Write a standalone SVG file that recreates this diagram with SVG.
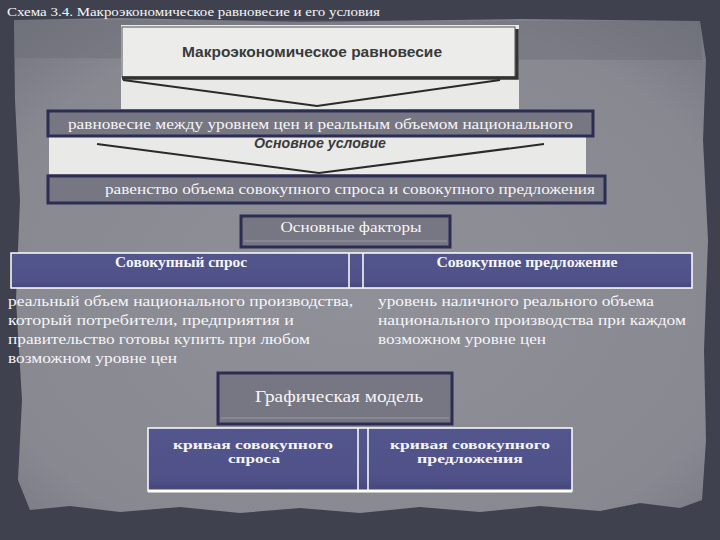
<svg xmlns="http://www.w3.org/2000/svg" width="720" height="540" viewBox="0 0 720 540">
<defs>
<radialGradient id="pg" cx="0.5" cy="0.55" r="0.75">
<stop offset="0" stop-color="#8f9098"/>
<stop offset="0.75" stop-color="#878890"/>
<stop offset="1" stop-color="#72747e"/>
</radialGradient>
<linearGradient id="hdr" x1="0" y1="0" x2="0" y2="1">
<stop offset="0" stop-color="#53558d"/>
<stop offset="0.8" stop-color="#4f5188"/>
<stop offset="1" stop-color="#45477a"/>
</linearGradient>
</defs>
<style>
.t{font-family:"Liberation Serif","DejaVu Serif",serif;fill:#f6f6f8}
.box{fill:#767782;stroke:#2c2d52;stroke-width:3}
.cell{fill:url(#hdr);stroke:#ffffff;stroke-width:1.5}
.sep{stroke:#ffffff;stroke-width:1.5}
.con{fill:none;stroke:#2a2a2a;stroke-width:2}
.pic{fill:#e9e9e7}
</style>
<rect x="0" y="0" width="720" height="540" fill="#3f424e"/>
<path d="M14,20 L120,18 L300,22 L520,19 L700,21 L706,60 L703,140 L708,240 L704,350 L706,440 L702,500 L680,508 L640,503 L600,511 L540,506 L480,512 L420,507 L360,513 L300,508 L240,513 L180,507 L120,512 L70,506 L30,510 L18,480 L22,400 L16,300 L20,200 L15,100 Z" fill="url(#pg)"/>
<path d="M14,20 L700,21 L702,60 L14,58 Z" fill="#6a6c76" opacity="0.45"/>
<text class="t" x="7" y="16" font-size="13.5" textLength="373" lengthAdjust="spacingAndGlyphs">Схема 3.4. Макроэкономическое равновесие и его условия</text>

<g id="pic1">
<rect class="pic" x="121" y="25" width="398" height="84"/>
<rect x="122" y="27" width="393" height="50" fill="#ececea" stroke="#555" stroke-width="1"/>
<path d="M122,78 L517,78 L517,29" fill="none" stroke="#333" stroke-width="3.5"/>
<text x="312" y="57" text-anchor="middle" font-family="'Liberation Sans','DejaVu Sans',sans-serif" font-weight="bold" font-size="15.5" fill="#3a3a3a" textLength="260" lengthAdjust="spacingAndGlyphs">Макроэкономическое равновесие</text>
</g>
<g id="pic2">
<rect class="pic" x="49" y="136" width="537" height="38"/>
<text x="320" y="148" text-anchor="middle" font-family="'Liberation Sans','DejaVu Sans',sans-serif" font-weight="bold" font-style="italic" font-size="15" fill="#3a3a3a" textLength="132" lengthAdjust="spacingAndGlyphs">Основное условие</text>
</g>
<g id="connectors">
<path class="con" d="M123,80 L317,106 L500,80"/>
<path class="con" d="M97,144 L319,173 L544,144"/>
</g>
<g id="box1">
<rect class="box" x="48" y="111" width="545" height="25"/>
<text class="t" x="68" y="129" font-size="15" textLength="505" lengthAdjust="spacingAndGlyphs">равновесие между уровнем цен и реальным объемом национального</text>
</g>
<g id="box2">
<rect class="box" x="48" y="176" width="557" height="27"/>
<text class="t" x="105" y="194" font-size="15" textLength="490" lengthAdjust="spacingAndGlyphs">равенство объема совокупного спроса и совокупного предложения</text>
</g>
<g id="factors">
<rect class="box" x="241" y="216" width="209" height="31"/>
<line x1="244" y1="241" x2="447" y2="241" stroke="#9a9aa8" stroke-width="1"/>
<text class="t" x="351" y="232" font-size="15" text-anchor="middle" textLength="141" lengthAdjust="spacingAndGlyphs">Основные факторы</text>
</g>
<g id="factors-table">
<rect class="cell" x="11" y="253" width="681" height="35"/>
<line class="sep" x1="349" y1="253" x2="349" y2="288"/>
<line class="sep" x1="363" y1="253" x2="363" y2="288"/>
</g>
<g id="demand-head">
<text class="t" x="181" y="267" font-size="14" font-weight="bold" text-anchor="middle" textLength="132" lengthAdjust="spacingAndGlyphs">Совокупный спрос</text>
</g>
<g id="supply-head">
<text class="t" x="527" y="267" font-size="14" font-weight="bold" text-anchor="middle" textLength="181" lengthAdjust="spacingAndGlyphs">Совокупное предложение</text>
</g>
<g id="demand-text">
<text class="t" font-size="15" x="8" y="306" textLength="345" lengthAdjust="spacingAndGlyphs">реальный объем национального производства,</text>
<text class="t" font-size="15" x="8" y="325" textLength="286" lengthAdjust="spacingAndGlyphs">который потребители, предприятия и</text>
<text class="t" font-size="15" x="8" y="344" textLength="302" lengthAdjust="spacingAndGlyphs">правительство готовы купить при любом</text>
<text class="t" font-size="15" x="8" y="363" textLength="169" lengthAdjust="spacingAndGlyphs">возможном уровне цен</text>
</g>
<g id="supply-text">
<text class="t" font-size="15" x="378" y="306" textLength="276" lengthAdjust="spacingAndGlyphs">уровень наличного реального объема</text>
<text class="t" font-size="15" x="378" y="325" textLength="308" lengthAdjust="spacingAndGlyphs">национального производства при каждом</text>
<text class="t" font-size="15" x="378" y="344" textLength="168" lengthAdjust="spacingAndGlyphs">возможном уровне цен</text>
</g>
<g id="model">
<rect class="box" x="218" y="373" width="234" height="51"/>
<line x1="221" y1="418" x2="449" y2="418" stroke="#9a9aa8" stroke-width="1"/>
<text class="t" x="339" y="402" font-size="16.5" text-anchor="middle" textLength="168" lengthAdjust="spacingAndGlyphs">Графическая модель</text>
</g>
<g id="model-table">
<rect class="cell" x="148" y="428" width="424" height="63"/>
<line class="sep" x1="358" y1="428" x2="358" y2="491"/>
<line class="sep" x1="368" y1="428" x2="368" y2="491"/>
<line x1="148" y1="491" x2="572" y2="491" stroke="#ffffff" stroke-width="3"/>
</g>
<g id="ad-curve">
<text class="t" x="253" y="449" font-size="13.5" font-weight="bold" text-anchor="middle" textLength="160" lengthAdjust="spacingAndGlyphs">кривая совокупного</text>
<text class="t" x="254" y="463" font-size="13.5" font-weight="bold" text-anchor="middle" textLength="52" lengthAdjust="spacingAndGlyphs">спроса</text>
</g>
<g id="as-curve">
<text class="t" x="470" y="449" font-size="13.5" font-weight="bold" text-anchor="middle" textLength="160" lengthAdjust="spacingAndGlyphs">кривая совокупного</text>
<text class="t" x="470" y="463" font-size="13.5" font-weight="bold" text-anchor="middle" textLength="106" lengthAdjust="spacingAndGlyphs">предложения</text>
</g>
</svg>
